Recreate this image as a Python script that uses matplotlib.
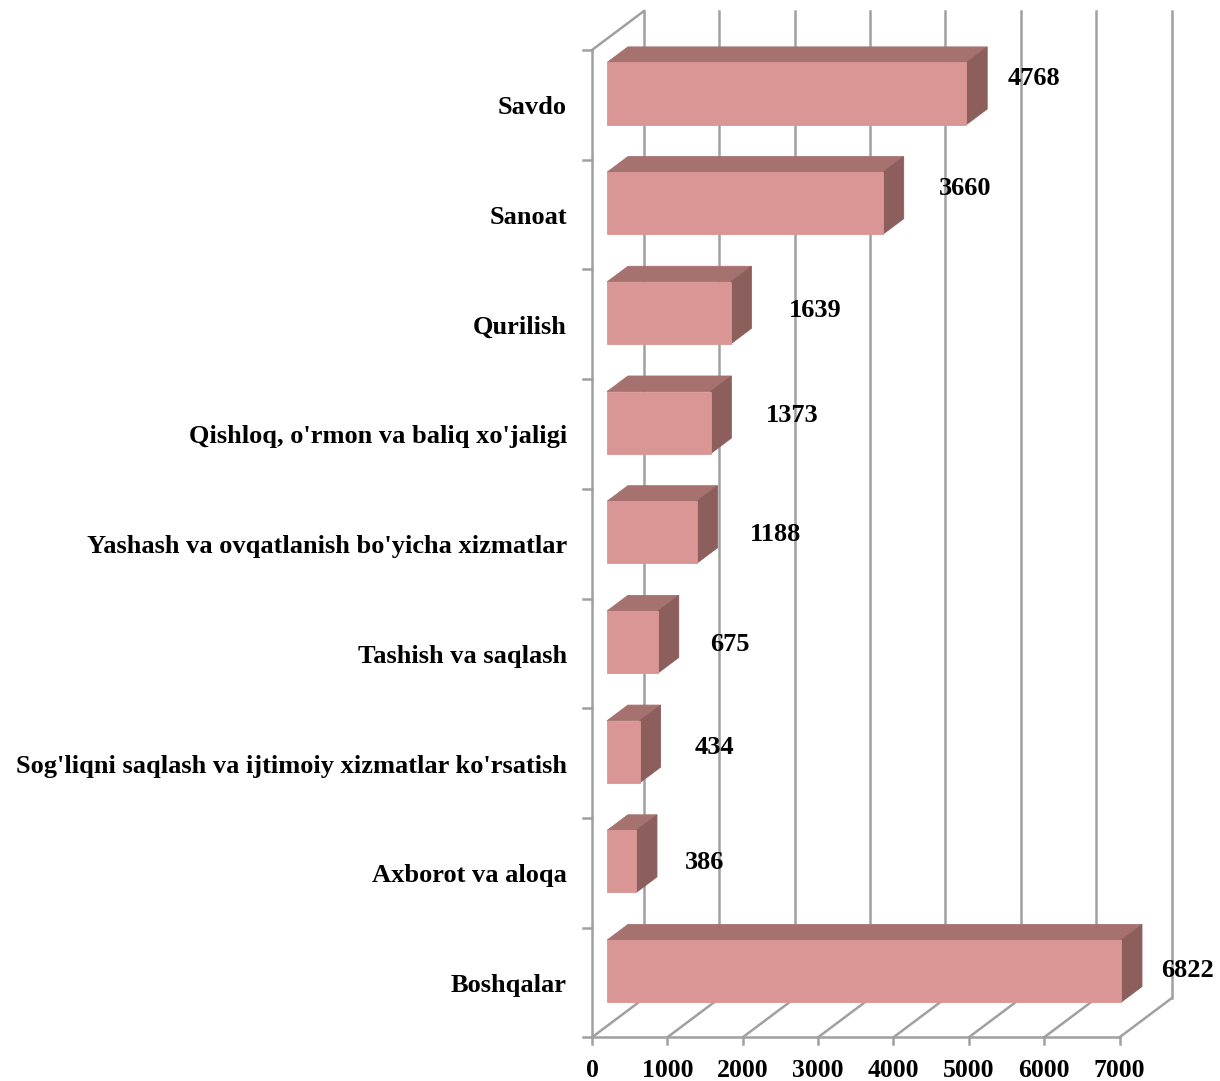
import matplotlib
matplotlib.use('Agg')
import matplotlib.pyplot as plt
from matplotlib.patches import Polygon

plt.rcParams['font.family'] = ['Liberation Serif', 'DejaVu Serif']

categories = ['Savdo', 'Sanoat', 'Qurilish', "Qishloq, o'rmon va baliq xo'jaligi",
              "Yashash va ovqatlanish bo'yicha xizmatlar", 'Tashish va saqlash',
              "Sog'liqni saqlash va ijtimoiy xizmatlar ko'rsatish", 'Axborot va aloqa',
              'Boshqalar']
values = [4768, 3660, 1639, 1373, 1188, 675, 434, 386, 6822]
ticks = [0, 1000, 2000, 3000, 4000, 5000, 6000, 7000]

# pixel scale of the picture
PX_X = 75.36 / 1000     # px per value unit
PX_Y = 109.7            # px per category
X0, Y0 = 592, 50        # px of origin (value 0, top boundary)
W, H = 1220, 1081

# depth offset of the 3d box, in data units
DV = 52 / PX_X
DY = -39 / PX_Y
d0, d1 = 0.29, 0.69
half = 0.283

front_c = '#DA9694'
top_c = '#A57270'
side_c = '#8C5F5D'
grid_c = '#A0A0A0'

fig = plt.figure(figsize=(W / 100, H / 100), dpi=100)
ax = fig.add_axes([0, 0, 1, 1])
ax.set_xlim(-X0 / PX_X, (W - X0) / PX_X)
ax.set_ylim((H - Y0) / PX_Y, -Y0 / PX_Y)
ax.axis('off')


def proj(v, y, d):
    return (v + d * DV, y + d * DY)


n = len(categories)
vmax = ticks[-1]
lw = 1.8

# back wall gridlines and floor
for t in ticks:
    ax.plot(*zip(proj(t, 0, 1), proj(t, n, 1)), color=grid_c, lw=lw, zorder=1)
    ax.plot(*zip(proj(t, n, 0), proj(t, n, 1)), color=grid_c, lw=lw, zorder=1)
    ax.plot([t, t], [n, n + 7 / PX_Y], color=grid_c, lw=lw, zorder=1)
    ax.text(t, n + 33 / PX_Y, f'{t}', ha='center', va='center',
            fontsize=18.5, fontweight='bold')
ax.plot([0, vmax], [n, n], color=grid_c, lw=lw, zorder=1)
# left wall
ax.plot([0, 0], [0, n], color=grid_c, lw=lw, zorder=1)
ax.plot(*zip(proj(0, 0, 0), proj(0, 0, 1)), color=grid_c, lw=lw, zorder=1)
for k in range(n + 1):
    ax.plot([0, -9 / PX_X], [k, k], color=grid_c, lw=lw, zorder=1)

# hand-placed label nudges (px), as in the original
label_dx = [47, 61, 64, 61, 58, 51, 54, 48, 46]
label_dy = [-15, -15, -2, -7, 2, 2, -4, 1, -1]

for i, (cat, v) in enumerate(zip(categories, values)):
    ya, yb = i + 0.5 - half, i + 0.5 + half
    front = [proj(0, ya, d0), proj(v, ya, d0), proj(v, yb, d0), proj(0, yb, d0)]
    top = [proj(0, ya, d0), proj(v, ya, d0), proj(v, ya, d1), proj(0, ya, d1)]
    side = [proj(v, ya, d0), proj(v, yb, d0), proj(v, yb, d1), proj(v, ya, d1)]
    for poly, c in ((top, top_c), (side, side_c), (front, front_c)):
        ax.add_patch(Polygon(poly, closed=True, facecolor=c, edgecolor=c,
                             lw=0.6, zorder=3))
    ax.text(-25 / PX_X, i + 0.5 + 3 / PX_Y, cat, ha='right', va='center',
            fontsize=19, fontweight='bold')
    lx, ly = proj(v, i + 0.5, d1)
    ax.text(lx + label_dx[i] / PX_X, i + 0.5 + d0 * DY + label_dy[i] / PX_Y, f'{v}',
            ha='center', va='center', fontsize=19, fontweight='bold', zorder=4)

fig.savefig('out.png', dpi=100)
